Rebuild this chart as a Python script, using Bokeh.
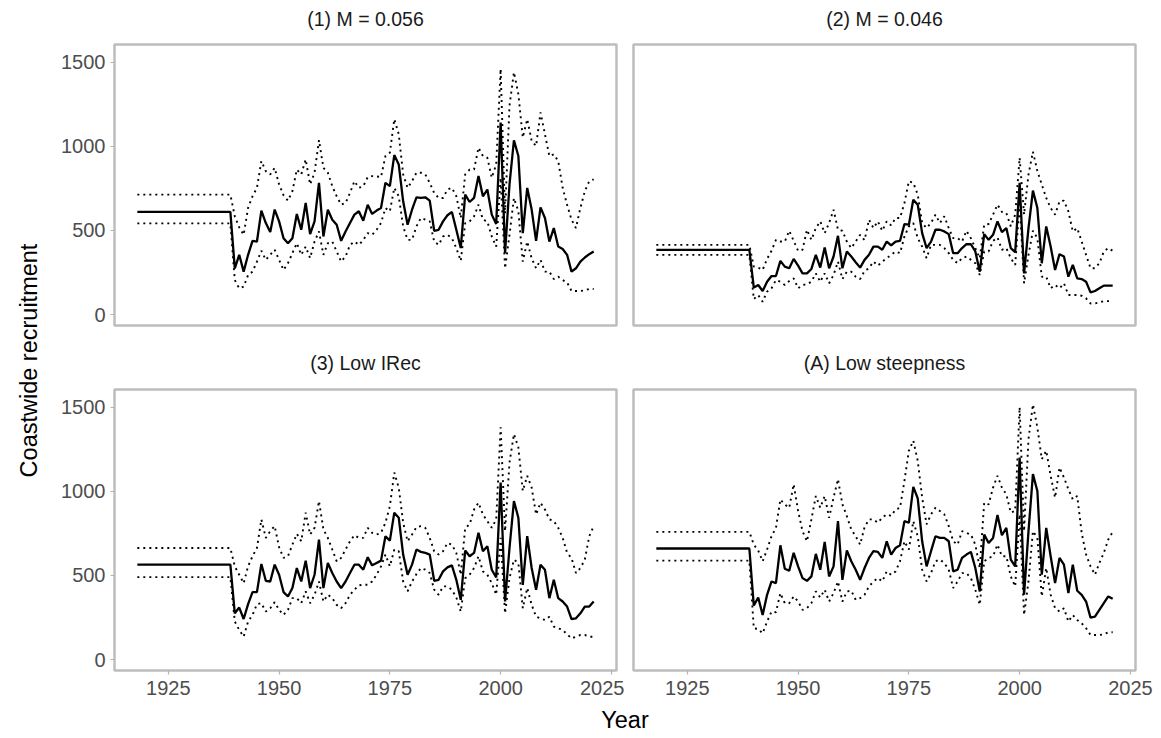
import math
from bokeh.plotting import figure
from bokeh.layouts import row, column
from bokeh.models import FixedTicker, Range1d
from bokeh.embed import file_html
from bokeh.resources import INLINE
from bokeh.core.properties import value

# ---------------- data ----------------
flat_years = list(range(1918, 1940))
var_years = list(range(1940, 2022))
x_ticks = [1925, 1950, 1975, 2000, 2025]
y_ticks = [0, 500, 1000, 1500]

titles = ["(1) M = 0.056", "(2) M = 0.046", "(3) Low IRec", "(A) Low steepness"]

p1_flat = [610, 713, 542]  # median, upper, lower
p1_med = [275, 355, 255, 355, 438, 434, 618, 544, 490, 624,
          554, 454, 424, 454, 598, 504, 663, 478, 554, 783,
          464, 623, 564, 534, 438, 494, 544, 594, 614, 558,
          653, 598, 618, 633, 783, 763, 948, 892, 673, 534,
          623, 697, 693, 697, 677, 498, 504, 554, 590, 610,
          504, 395, 713, 669, 693, 823, 703, 743, 594, 538,
          1141, 365, 773, 1036, 942, 484, 753, 624, 438, 637,
          574, 434, 514, 404, 390, 355, 255, 275, 315, 339,
          359, 375]
p1_up = [584, 518, 474, 634, 703, 753, 912, 852, 833, 872,
         773, 709, 677, 733, 862, 833, 922, 773, 843, 1036,
         872, 843, 763, 703, 653, 663, 723, 793, 753, 763,
         817, 823, 821, 817, 942, 962, 1161, 1072, 833, 753,
         793, 843, 843, 833, 783, 723, 693, 693, 743, 753,
         703, 574, 833, 862, 862, 992, 942, 932, 813, 892,
         1460, 600, 1241, 1440, 1310, 1052, 1161, 1032, 1002, 1201,
         1072, 942, 952, 912, 753, 653, 564, 514, 634, 733,
         793, 803]
p1_lo = [205, 156, 166, 235, 255, 315, 379, 325, 355, 385,
         325, 265, 305, 365, 424, 355, 404, 335, 434, 494,
         355, 424, 434, 375, 315, 345, 414, 434, 414, 444,
         484, 474, 504, 544, 633, 614, 753, 703, 524, 444,
         444, 524, 574, 564, 554, 434, 414, 464, 474, 454,
         395, 319, 544, 554, 584, 653, 564, 554, 464, 404,
         813, 275, 474, 693, 614, 315, 434, 335, 275, 325,
         255, 255, 211, 225, 205, 191, 140, 140, 140, 144,
         152, 152]

p2_flat = [385, 414, 355]
p2_med = [160, 176, 140, 195, 229, 229, 319, 285, 275, 331,
          291, 245, 245, 271, 355, 279, 399, 275, 345, 468,
          275, 375, 345, 311, 279, 325, 355, 404, 404, 385,
          434, 411, 434, 438, 538, 534, 683, 653, 484, 395,
          434, 504, 504, 494, 478, 365, 365, 395, 418, 418,
          375, 255, 478, 444, 474, 554, 490, 514, 395, 371,
          783, 245, 514, 737, 633, 305, 524, 404, 265, 359,
          345, 225, 295, 215, 211, 195, 132, 140, 156, 172,
          172, 172]
p2_up = [285, 279, 265, 331, 379, 444, 434, 434, 498, 438,
         379, 385, 504, 444, 514, 554, 484, 544, 623, 504,
         498, 434, 395, 434, 474, 442, 564, 514, 554, 498,
         554, 530, 574, 574, 663, 793, 783, 713, 544, 514,
         544, 594, 544, 584, 514, 454, 454, 434, 498, 454,
         395, 335, 534, 538, 594, 653, 610, 604, 524, 594,
         932, 594, 833, 968, 853, 773, 693, 633, 594, 673,
         677, 613, 494, 514, 434, 355, 275, 275, 305, 375,
         395, 379]
p2_lo = [92, 116, 76, 136, 156, 205, 195, 176, 199, 215,
         156, 176, 180, 195, 245, 195, 245, 186, 235, 315,
         211, 255, 255, 225, 211, 259, 275, 315, 291, 315,
         335, 355, 375, 365, 464, 524, 544, 454, 404, 335,
         414, 414, 414, 395, 365, 325, 305, 335, 345, 325,
         305, 235, 375, 375, 438, 458, 385, 395, 335, 295,
         673, 186, 355, 498, 454, 225, 225, 156, 176, 156,
         186, 116, 116, 116, 112, 96, 66, 66, 72, 80,
         80, 80]

p3_flat = [564, 663, 490]
p3_med = [275, 309, 241, 329, 401, 401, 568, 468, 464, 564,
          504, 401, 375, 425, 544, 464, 588, 425, 504, 713,
          425, 574, 514, 464, 425, 464, 514, 564, 564, 534,
          608, 560, 574, 588, 733, 707, 873, 843, 624, 504,
          564, 654, 640, 634, 624, 468, 474, 524, 548, 560,
          474, 355, 648, 614, 634, 753, 644, 673, 534, 488,
          1052, 345, 663, 942, 843, 444, 733, 544, 415, 564,
          534, 365, 474, 365, 345, 315, 241, 245, 275, 315,
          315, 345]
p3_up = [554, 504, 454, 554, 614, 663, 833, 723, 763, 793,
         667, 604, 614, 683, 747, 703, 873, 743, 783, 942,
         773, 723, 654, 584, 604, 654, 703, 739, 723, 723,
         783, 753, 743, 753, 813, 912, 1111, 1022, 813, 703,
         743, 787, 793, 783, 723, 644, 624, 644, 693, 683,
         634, 504, 783, 803, 892, 932, 862, 823, 783, 833,
         1380, 763, 1171, 1340, 1261, 1002, 1092, 1022, 862, 932,
         892, 833, 823, 783, 723, 634, 604, 514, 544, 594,
         733, 793]
p3_lo = [226, 176, 136, 226, 265, 329, 335, 285, 305, 341,
         295, 265, 295, 365, 365, 335, 405, 335, 385, 464,
         345, 385, 365, 325, 305, 335, 385, 415, 441, 445,
         445, 464, 504, 554, 624, 554, 654, 644, 464, 405,
         464, 508, 544, 534, 514, 415, 385, 435, 435, 415,
         369, 285, 484, 504, 544, 614, 524, 504, 454, 385,
         723, 275, 484, 594, 574, 305, 425, 325, 255, 245,
         235, 255, 196, 186, 176, 150, 126, 136, 146, 146,
         136, 136]

p4_flat = [660, 759, 588]
p4_med = [321, 369, 265, 385, 464, 454, 679, 540, 528, 634,
          554, 484, 468, 494, 628, 534, 699, 494, 554, 823,
          474, 648, 584, 534, 474, 544, 604, 644, 640, 604,
          703, 624, 663, 679, 823, 813, 1026, 958, 703, 554,
          644, 733, 723, 723, 703, 524, 534, 604, 624, 640,
          544, 405, 743, 693, 723, 859, 739, 783, 594, 554,
          1201, 385, 763, 1102, 1002, 504, 783, 614, 454, 604,
          564, 395, 564, 409, 385, 345, 249, 255, 295, 335,
          375, 361]
p4_up = [683, 648, 584, 654, 733, 783, 952, 922, 902, 1042,
         883, 763, 703, 833, 972, 902, 972, 843, 962, 1072,
         922, 853, 773, 733, 683, 787, 833, 833, 813, 843,
         863, 853, 892, 902, 1062, 1241, 1301, 1181, 962, 803,
         863, 902, 883, 863, 793, 703, 683, 763, 753, 743,
         683, 544, 932, 922, 1022, 1092, 1022, 982, 873, 883,
         1500, 763, 1311, 1516, 1380, 1191, 1241, 1092, 962, 1141,
         1082, 1012, 952, 972, 753, 624, 554, 504, 574, 634,
         713, 759]
p4_lo = [186, 182, 156, 226, 285, 281, 395, 335, 335, 375,
         345, 295, 305, 335, 405, 369, 415, 345, 395, 464,
         345, 405, 409, 355, 365, 385, 435, 464, 484, 464,
         524, 504, 524, 584, 703, 654, 823, 733, 534, 464,
         514, 584, 594, 574, 534, 425, 464, 514, 514, 484,
         415, 325, 584, 604, 614, 683, 614, 614, 494, 435,
         863, 265, 464, 763, 723, 375, 544, 385, 305, 285,
         305, 226, 265, 235, 215, 186, 146, 146, 146, 150,
         162, 162]

panels = [
    (p1_flat, p1_med, p1_up, p1_lo),
    (p2_flat, p2_med, p2_up, p2_lo),
    (p3_flat, p3_med, p3_up, p3_lo),
    (p4_flat, p4_med, p4_up, p4_lo),
]

FONT = "Liberation Sans"
BORDER = "#BDBDBD"
TICK_SIZE = "20px"
STRIP_SIZE = "19.5px"
AXIS_TITLE_SIZE = "23.5px"


def make_panel(flat, med, up, lo, width, height, mbl, mbr, mbt, mbb, show_x, show_y):
    p = figure(width=width, height=height, output_backend="svg", toolbar_location=None,
               x_range=Range1d(1912.85, 2026.15), y_range=Range1d(-65, 1605),
               min_border_left=mbl, min_border_right=mbr,
               min_border_top=mbt, min_border_bottom=mbb)
    p.outline_line_color = BORDER
    p.outline_line_width = 2.5
    p.grid.visible = False
    p.background_fill_color = "white"
    p.border_fill_color = "white"

    xs = flat_years + var_years
    med_all = [flat[0]] * len(flat_years) + med
    up_all = [flat[1]] * len(flat_years) + up
    lo_all = [flat[2]] * len(flat_years) + lo
    p.line(xs, up_all, line_color="black", line_width=1.9, line_dash="2 4")
    p.line(xs, lo_all, line_color="black", line_width=1.9, line_dash="2 4")
    p.line(xs, med_all, line_color="black", line_width=2.3)

    for ax in (p.xaxis[0], p.yaxis[0]):
        ax.axis_line_color = None
        ax.major_tick_line_color = "#B3B3B3"
        ax.major_tick_line_width = 1.2
        ax.major_tick_out = 4
        ax.major_tick_in = 0
        ax.minor_tick_line_color = None
        ax.major_label_text_font = FONT
        ax.major_label_text_font_size = TICK_SIZE
        ax.major_label_text_color = "#4D4D4D"
    p.xaxis[0].ticker = FixedTicker(ticks=x_ticks)
    p.yaxis[0].ticker = FixedTicker(ticks=y_ticks)
    p.xaxis[0].major_label_standoff = 6
    p.yaxis[0].major_label_standoff = 5
    p.xaxis.visible = show_x
    p.yaxis.visible = show_y
    return p


def blank(width, height):
    f = figure(width=width, height=height, output_backend="svg", toolbar_location=None,
               x_range=Range1d(0, width), y_range=Range1d(0, height),
               min_border=0, min_border_left=0, min_border_right=0,
               min_border_top=0, min_border_bottom=0)
    f.axis.visible = False
    f.grid.visible = False
    f.outline_line_color = None
    return f


def strip(t_left, t_right, height, center_from_top):
    s = blank(1111, height)
    s.text(x=[365 - 50, 884 - 50], y=[height - center_from_top] * 2, text=[t_left, t_right],
           text_align="center", text_baseline="middle", text_font=value(FONT),
           text_font_size=STRIP_SIZE, text_color="#1A1A1A")
    return s


# page layout: top strip 0-30, top panels 30-345 (frame 44-325),
# middle strip 345-378, bottom panels 378-705 (frame 389-670), x title 705-738
strip1 = strip(titles[0], titles[1], 30, 18)
TL = make_panel(*panels[0], 574, 315, 64, 8, 14, 20, False, True)
TR = make_panel(*panels[1], 537, 315, 9, 26, 14, 20, False, False)
strip2 = strip(titles[2], titles[3], 33, 17)
BL = make_panel(*panels[2], 574, 327, 64, 8, 11, 35, True, True)
BR = make_panel(*panels[3], 537, 327, 9, 26, 11, 35, True, False)

ylab = blank(50, 738)
ylab.text(x=[28], y=[738 - 360], text=["Coastwide recruitment"], angle=math.pi / 2,
          text_align="center", text_baseline="middle", text_font=value(FONT),
          text_font_size=AXIS_TITLE_SIZE, text_color="black")

xlab = blank(1111, 33)
xlab.text(x=[624.5 - 50], y=[33 - 14], text=["Year"], text_align="center",
          text_baseline="middle", text_font=value(FONT), text_font_size=AXIS_TITLE_SIZE,
          text_color="black")

layout = row(ylab, column(strip1, row(TL, TR), strip2, row(BL, BR), xlab))

open("out.html", "w").write(file_html(layout, INLINE))
